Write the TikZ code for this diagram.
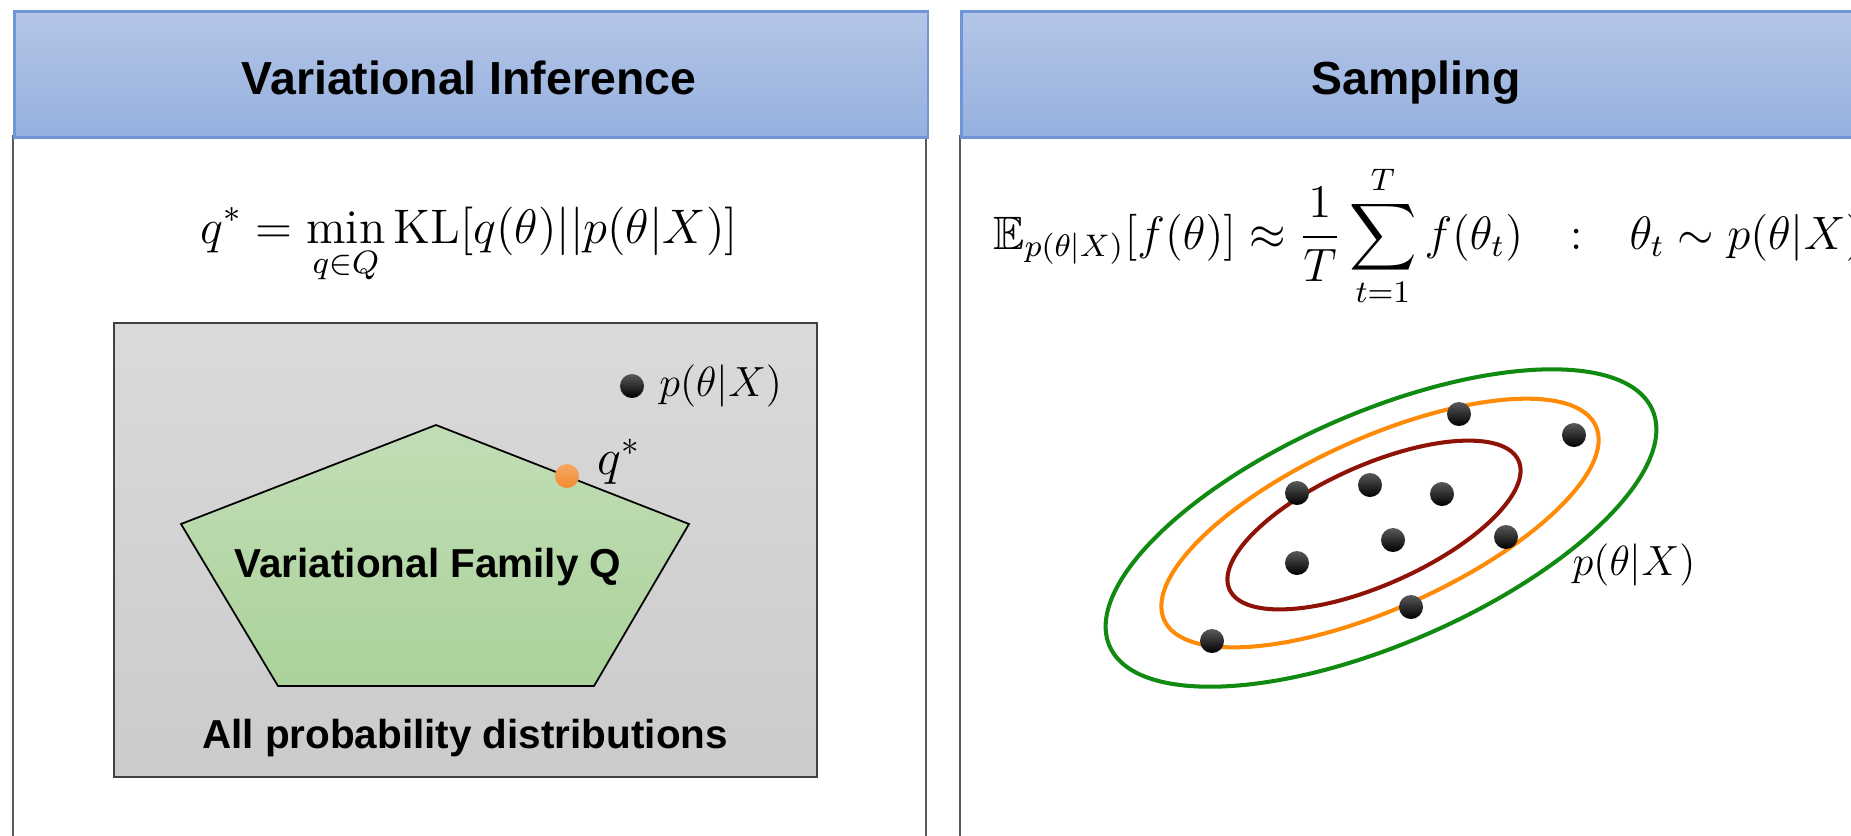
\documentclass[tikz,border=0pt]{standalone}
\usepackage{amsmath,amssymb}
\usepackage{graphicx}
\usepackage{fontspec}
\setsansfont{Liberation Sans}
\usetikzlibrary{positioning}
\definecolor{hdtop}{HTML}{B4C5E7}
\definecolor{hdbot}{HTML}{95B0DE}
\definecolor{hdline}{HTML}{6F95D6}
\definecolor{framegrey}{HTML}{5A5A5A}
\definecolor{greytop}{HTML}{DADADA}
\definecolor{greybot}{HTML}{CBCBCB}
\definecolor{famtop}{HTML}{C2DDB6}
\definecolor{fambot}{HTML}{ABD29A}
\definecolor{qorange}{HTML}{F28A30}
\definecolor{outgreen}{HTML}{108A10}
\definecolor{midorange}{HTML}{FF8A05}
\definecolor{inred}{HTML}{8E1205}

\begin{document}
\begin{tikzpicture}[x=0.01cm,y=-0.01cm,
 hd/.style={draw=hdline,line width=0.8pt,top color=hdtop,bottom color=hdbot,minimum height=1.26cm,inner sep=0pt,anchor=north west},
 ttl/.style={font=\sffamily\bfseries\fontsize{13.2}{16}\selectfont,anchor=base},
 lbl/.style={font=\sffamily\bfseries\fontsize{11.5}{14}\selectfont,anchor=base},
 eq/.style={font=\fontsize{12}{14.4}\selectfont,inner sep=0pt,anchor=base},
 pt/.style={circle,inner sep=0pt,minimum size=0.24cm,top color=black!65,bottom color=black},
 contour/.style={line width=1.15pt}]
 \useasboundingbox (0,0) rectangle (1851,835);
 \clip (0,0) rectangle (1851,835);
 \fill[white] (0,0) rectangle (1851,835);
 % panel frames
 \draw[framegrey,line width=0.5pt] (13,136) rectangle (926,860);
 \draw[framegrey,line width=0.5pt] (960,136) rectangle (1872,860);
 \node[hd,minimum width=9.13cm] (vihead) at (13,10) {};
 \node[hd,minimum width=9.12cm] (smhead) at (960,10) {};
 \node[ttl] (vititle) at (469,94) {Variational Inference};
 \node[ttl] (smtitle) at (1416,94) {Sampling};

 % variational inference
 \node[eq] (klform) at (469,243) {\scalebox{1.15}{$\displaystyle q^* = \min_{q\in Q}\mathrm{KL}[q(\theta)||p(\theta|X)]$}};
 \node[draw=black!75,line width=0.5pt,top color=greytop,bottom color=greybot,minimum width=7.03cm,minimum height=4.54cm,inner sep=0pt,anchor=north west] (allbox) at (113,322) {};
 \draw[black,line width=0.5pt,top color=famtop,bottom color=fambot] (436,425) -- (689,524) -- (594,686) -- (278,686) -- (181,524) -- cycle;
 \node[lbl] (famlbl) at (428,577) {Variational Family Q};
 \node[lbl] (alllbl) at (465,748) {All probability distributions};
 \node[pt] (ptrue) at (632,386) {};
 \node[eq,right=0.14cm of ptrue] (ptruelbl) {$p(\theta|X)$};
 \node[pt,top color=qorange!75!white,bottom color=qorange] (qstar) at (567,476) {};
 \node[font=\fontsize{14.4}{17}\selectfont,inner sep=0pt,anchor=base west] (qstarlbl) at (597,474) {$q^*$};

 % sampling
 \node[eq,anchor=base west] (mcform) at (993,249) {\scalebox{1.11}{$\displaystyle \mathbb{E}_{p(\theta|X)}[f(\theta)] \approx \frac{1}{T}\sum_{t=1}^{T} f(\theta_t) \quad{:}\quad \theta_t \sim p(\theta|X)$}};
 \draw[contour,outgreen,rotate around={23.5:(1381,528)}] (1381,528) ellipse [x radius=296,y radius=115.7];
 \draw[contour,midorange,rotate around={24.2:(1380,523)}] (1380,523) ellipse [x radius=236.6,y radius=85.3];
 \draw[contour,inred,rotate around={24:(1374,525)}] (1374,525) ellipse [x radius=158.2,y radius=59.8];
 \foreach \px/\py [count=\k] in {1459/414,1574/435,1297/493,1370/485,1442/494,1393/540,1506/537,1297/563,1411/607,1212/641}
   \node[pt] (s\k) at (\px,\py) {};
 \node[eq,anchor=base west] (plbl) at (1572,575) {$p(\theta|X)$};
\end{tikzpicture}
\end{document}
